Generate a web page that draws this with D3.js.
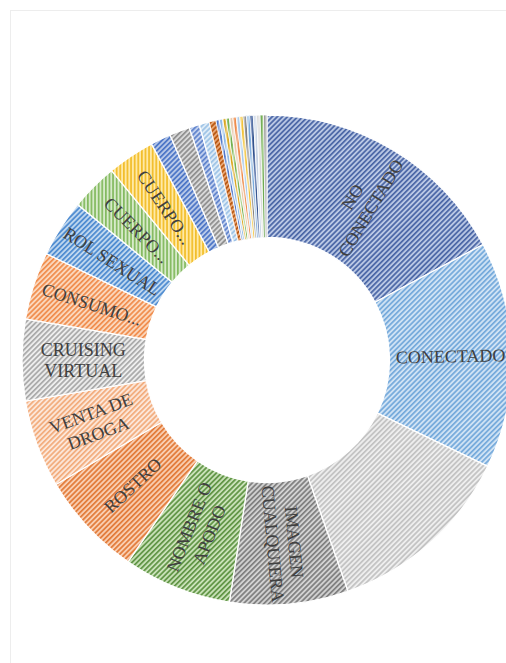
<!DOCTYPE html>
<html><head><meta charset="utf-8">
<script src="https://cdn.jsdelivr.net/npm/d3@7"></script>
<style>html,body{margin:0;padding:0;background:#fff;overflow:hidden}</style>
</head><body>
<svg id="c" width="506" height="663"></svg>
<script>
// ---- data ----
const categories = ["NO CONECTADO","CONECTADO","","IMAGEN CUALQUIERA","NOMBRE O APODO","ROSTRO",
  "VENTA DE DROGA","CRUISING VIRTUAL","CONSUMO...","ROL SEXUAL","CUERPO...","CUERPO...",
  "","","","","","","","","","","","","","","","","","","",""];
const values = [77,67,56,35,32,31,26,24,20,17,14,14,6,6,3,3,2,
  1,1,1,1,1,1,1,1,1,1,1,1,1,1,1];
// stripe colour / background colour per slice
const stripeColors = ["#4A66A6","#74A9DB","#C2C2C2","#7E7E7E","#5F9444","#E27A38","#F2AC7C","#A9A9A9",
  "#F08C4C","#4C8AD0","#84BA60","#F2BE2A","#4A74C6","#8E8E8E","#5F83CC","#9DC3E6","#B8550F",
  "#4F76C8","#8DB8E6","#D9A520","#74B050","#E9C9AC","#EE8A4A","#A9C9EA","#F2C23A","#7F7F7F",
  "#78A9DC","#2F4F8A","#C3D0E2","#D2D2D2","#4F9432","#8F8F8F"];
const bgColors = ["#B9C7E4","#CFE2F4","#EEEEEE","#D2D2D2","#C9E1B8","#F9CEB1","#FCE6D8","#EDEDED",
  "#FBD7BC","#BFD7EF","#D7EACA","#FFE9A6","#B7C8E8","#D8D8D8","#C0CFEE","#DDEBF7","#E7A574",
  "#A9BDE6","#C6DDF3","#EBCB72","#B9DBA3","#F3E2D2","#F4B68C","#D3E4F5","#F8DC86","#B9B9B9",
  "#B7D3EE","#6F86B6","#E1E8F1","#E6E6E6","#A2CC88","#C4C4C4"];
const patternAngles = [45,45,45,45,45,45,45,45,45,45,0,0,45,45,45,45,45,
  0,0,0,0,0,0,0,0,0,0,0,0,0,0,0];

const data = categories.map((c,i)=>({cat:c, value:values[i], i}));

const svg = d3.select("#c");
const cx = 267, cy = 360, R = 245, r = 122.5;

// chart-area border
svg.append("rect").attr("x",10.5).attr("y",10.5).attr("width",620).attr("height",700)
  .attr("fill","none").attr("stroke","#EDEDED").attr("stroke-width",1);

const defs = svg.append("defs");
data.forEach(d=>{
  const p = defs.append("pattern").attr("id","p"+d.i).attr("patternUnits","userSpaceOnUse")
    .attr("width",3.6).attr("height",3.6)
    .attr("patternTransform",`rotate(${patternAngles[d.i]})`);
  p.append("rect").attr("width",3.6).attr("height",3.6).attr("fill",bgColors[d.i]);
  p.append("rect").attr("width",1.7).attr("height",3.6).attr("fill",stripeColors[d.i]);
});

const pie = d3.pie().sort(null).value(d=>d.value).startAngle(0).endAngle(2*Math.PI);
const arc = d3.arc().innerRadius(r).outerRadius(R);
const arcs = pie(data);

const g = svg.append("g").attr("transform",`translate(${cx},${cy})`);
g.selectAll("path.slice").data(arcs).join("path").attr("class","slice")
  .attr("d",arc).attr("fill",d=>`url(#p${d.data.i})`)
  .attr("stroke","#fff").attr("stroke-width",d=>d.data.value<3?0.8:1.3);

function wrap(s){
  if (s.length > 10 && s.indexOf(" ")>=0){
    const k = s.lastIndexOf(" ");
    return [s.slice(0,k), s.slice(k+1)];
  }
  return [s];
}

const fs = 18, lh = 21.5;
const labels = g.selectAll("text.lab").data(arcs.filter(d=>d.data.cat)).join("text")
  .attr("class","lab")
  .attr("transform",d=>{
    const [x,y] = arc.centroid(d);
    const a = (d.startAngle+d.endAngle)/2*180/Math.PI;
    const rot = a < 180 ? a-90 : a+90;
    return `translate(${x},${y}) rotate(${rot})`;
  })
  .attr("text-anchor","middle")
  .style("font-family","'Liberation Serif','Times New Roman',serif")
  .style("font-size",fs+"px")
  .attr("fill","#404040");
labels.each(function(d){
  const lines = wrap(d.data.cat);
  const n = lines.length;
  d3.select(this).selectAll("tspan").data(lines).join("tspan")
    .attr("x",0).attr("y",(t,k)=> (k-(n-1)/2)*lh + fs*0.35)
    .text(t=>t);
});
</script>
</body></html>
